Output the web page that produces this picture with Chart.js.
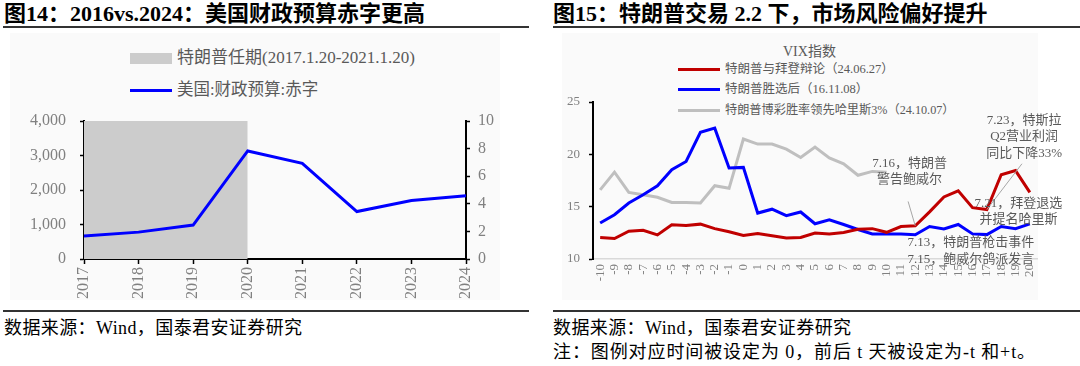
<!DOCTYPE html>
<html>
<head>
<meta charset="utf-8">
<script src="https://cdn.jsdelivr.net/npm/chart.js"></script>
<style>
  body { margin: 0; width: 1080px; height: 366px; background: #fff; position: relative; overflow: hidden;
         font-family: "Liberation Serif", "Noto Sans CJK SC", serif; }
  .ttl { position: absolute; top: 1px; font-size: 22px; line-height: 26px; font-weight: bold; color: #000; white-space: nowrap; }
  .rule { position: absolute; height: 2px; background: #333; }
  .panel { position: absolute; top: 33px; height: 267px; background: #fafafa; }
  .src { position: absolute; font-size: 18px; line-height: 20px; color: #000; white-space: nowrap; }
  .lg { position: absolute; white-space: nowrap; color: #595959; }
  .sw { position: absolute; }
  canvas { position: absolute; }
</style>
</head>
<body>
<div class="panel" style="left:10px;width:490px"></div>
<div class="panel" style="left:562px;width:476px"></div>

<div class="ttl" style="left:4px">图14：2016vs.2024：美国财政预算赤字更高</div>
<div class="rule" style="left:3px;width:526px;top:26px"></div>
<div class="ttl" style="left:553px">图15：特朗普交易 2.2 下，市场风险偏好提升</div>
<div class="rule" style="left:553px;width:527px;top:26px"></div>

<div class="sw" style="left:130px;top:53px;width:42px;height:11px;background:#cccccc"></div>
<div class="lg" style="left:177px;top:48px;font-size:17px;line-height:20px">特朗普任期(2017.1.20-2021.1.20)</div>
<div class="sw" style="left:130px;top:89px;width:42px;height:3px;background:#0000ff"></div>
<div class="lg" style="left:177px;top:80px;font-size:16.5px;line-height:20px">美国:财政预算:赤字</div>

<div class="lg" style="left:783px;top:43px;font-size:14px;line-height:18px">VIX指数</div>
<div class="sw" style="left:678px;top:68px;width:42px;height:3px;background:#c00000"></div>
<div class="lg" style="left:725px;top:61px;font-size:12.5px;line-height:16px">特朗普与拜登辩论（24.06.27）</div>
<div class="sw" style="left:678px;top:88px;width:42px;height:3px;background:#0000ff"></div>
<div class="lg" style="left:725px;top:81px;font-size:12.5px;line-height:16px">特朗普胜选后（16.11.08）</div>
<div class="sw" style="left:678px;top:109px;width:42px;height:3px;background:#bfbfbf"></div>
<div class="lg" style="left:725px;top:102px;font-size:12.2px;line-height:16px">特朗普博彩胜率领先哈里斯3%（24.10.07）</div>

<canvas id="left" width="530" height="275" style="left:0;top:30px"></canvas>
<canvas id="right" width="540" height="275" style="left:540px;top:30px"></canvas>

<div class="rule" style="left:3px;width:526px;top:310px"></div>
<div class="rule" style="left:553px;width:527px;top:310px"></div>
<div class="src" style="left:4px;top:318px;letter-spacing:0.4px">数据来源：Wind，国泰君安证券研究</div>
<div class="src" style="left:553px;top:318px;letter-spacing:0.4px">数据来源：Wind，国泰君安证券研究</div>
<div class="src" style="left:553px;top:342px;letter-spacing:0.9px">注：图例对应时间被设定为 0，前后 t 天被设定为-t 和+t。</div>

<script>
// left chart: US budget deficit (bn USD)
const years = ["2017", "2018", "2019", "2020", "2021", "2022", "2023", "2024"];
const deficit = [665, 779, 984, 3132, 2775, 1375, 1695, 1833];
const trumpTerm = [4000, 4000, 4000, 4000, null, null, null, null];

// right chart: VIX around events, day offset -10..20
const days = ["-10", "-9", "-8", "-7", "-6", "-5", "-4", "-3", "-2", "-1", "0",
  "1", "2", "3", "4", "5", "6", "7", "8", "9", "10",
  "11", "12", "13", "14", "15", "16", "17", "18", "19", "20"];
const vixDebate = [12.05, 11.95, 12.65, 12.75, 12.3, 13.28, 13.2, 13.33, 12.9, 12.6, 12.24,
  12.44, 12.22, 12.0, 12.05, 12.48, 12.38, 12.54, 12.85, 12.9, 12.55,
  13.1, 13.17, 14.5, 15.93, 16.52, 14.9, 14.72, 18.05, 18.45, 16.37];
const vixElection = [13.44, 14.23, 15.35, 16.14, 17.0, 18.53, 19.32, 22.1, 22.5, 18.69, 18.75,
  14.39, 14.76, 14.14, 14.49, 13.37, 13.74, 13.3, 12.82, 12.4, 12.4,
  12.4, 12.32, 13.11, 12.88, 13.3, 12.4, 12.33, 13.1, 12.9, 13.35];
const vixOdds = [16.6, 18.3, 16.36, 16.14, 15.9, 15.4, 15.4, 15.35, 17.0, 16.75, 21.46,
  20.98, 20.99, 20.5, 19.7, 20.7, 19.65, 19.1, 18.0, 18.37, 18.3];

const tickGray = "#808080";
const serif = "'Liberation Serif', 'Noto Sans CJK SC', serif";

function fixW(w) { return (s) => { s.width = w; }; }
function fixH(h) { return (s) => { s.height = h; }; }

new Chart(document.getElementById("left"), {
  type: "line",
  data: {
    labels: years,
    datasets: [
      { label: "美国:财政预算:赤字", data: deficit, borderColor: "#0000ff", borderWidth: 3,
        pointRadius: 0, yAxisID: "y", tension: 0 },
      { label: "特朗普任期", data: trumpTerm, borderWidth: 0, pointRadius: 0,
        backgroundColor: "#cccccc", fill: "origin", yAxisID: "y" },
    ],
  },
  options: {
    responsive: false,
    animation: false,
    locale: "en-US",
    layout: { padding: { top: 91, left: 0, right: 0, bottom: 0 } },
    plugins: { legend: { display: false }, tooltip: { enabled: false } },
    scales: {
      x: {
        grid: { display: true, drawOnChartArea: false, color: "#000", tickLength: 5, tickWidth: 1.5 },
        border: { color: "#000", width: 2 },
        ticks: { color: tickGray, font: { size: 16, family: serif }, minRotation: 90, maxRotation: 90, padding: 3 },
        afterFit: fixH(46),
      },
      y: {
        position: "left", min: 0, max: 4000,
        grid: { display: true, drawOnChartArea: false, color: "#000", tickLength: 4, tickWidth: 1.5 },
        border: { color: "#000", width: 2 },
        ticks: { stepSize: 1000, color: tickGray, font: { size: 16, family: serif }, padding: 14 },
        afterFit: fixW(84),
      },
      y2: {
        position: "right", min: 0, max: 10,
        grid: { display: true, drawOnChartArea: false, color: "#000", tickLength: 4, tickWidth: 1.5 },
        border: { color: "#000", width: 2 },
        ticks: { stepSize: 2, color: tickGray, font: { size: 16, family: serif }, padding: 8 },
        afterFit: fixW(64),
      },
    },
  },
});

// text notes on the VIX chart, anchored in data units (day offset, VIX)
const notes = [
  { lines: ["7.16，特朗普", "警告鲍威尔"], t: 11.6, v: 19.14, align: "center" },
  { lines: ["7.23，特斯拉", "Q2营业利润", "同比下降33%"], t: 19.6, v: 23.24, align: "center" },
  { lines: ["7.21，拜登退选", "并提名哈里斯"], t: 19.2, v: 15.3, align: "center" },
  { lines: ["7.13，特朗普枪击事件", "7.15，鲍威尔鸽派发言"], t: 11.45, v: 11.55, align: "left" },
];
const leaders = [
  { t: 11.5, v: 15.5, day: 12 },
  { t: 19.45, v: 19.1, day: 17 },
];

const annotate = {
  id: "annotate",
  afterDatasetsDraw(chart) {
    const { ctx, scales: { x, y } } = chart;
    const zero = days.indexOf("0");
    ctx.save();
    ctx.strokeStyle = "#a6a6a6";
    ctx.lineWidth = 1;
    leaders.forEach((l) => {
      ctx.beginPath();
      ctx.moveTo(x.getPixelForValue(zero + l.t), y.getPixelForValue(l.v));
      ctx.lineTo(x.getPixelForValue(zero + l.day), y.getPixelForValue(vixDebate[zero + l.day]));
      ctx.stroke();
    });
    ctx.font = "13px " + serif;
    ctx.fillStyle = "#595959";
    ctx.textBaseline = "middle";
    notes.forEach((n) => {
      ctx.textAlign = n.align;
      n.lines.forEach((s, i) => {
        ctx.fillText(s, x.getPixelForValue(zero + n.t), y.getPixelForValue(n.v) + i * 16.5);
      });
    });
    ctx.restore();
  },
};

new Chart(document.getElementById("right"), {
  type: "line",
  data: {
    labels: days,
    datasets: [
      { label: "特朗普与拜登辩论（24.06.27）", data: vixDebate, borderColor: "#c00000", borderWidth: 3, pointRadius: 0 },
      { label: "特朗普胜选后（16.11.08）", data: vixElection, borderColor: "#0000ff", borderWidth: 3, pointRadius: 0 },
      { label: "特朗普博彩胜率领先哈里斯3%（24.10.07）", data: vixOdds, borderColor: "#bfbfbf", borderWidth: 3, pointRadius: 0 },
    ],
  },
  options: {
    responsive: false,
    animation: false,
    layout: { padding: { top: 72, left: 0, right: 43, bottom: 0 } },
    plugins: { legend: { display: false }, tooltip: { enabled: false } },
    scales: {
      x: {
        offset: true,
        grid: { display: true, drawOnChartArea: false, drawTicks: false },
        border: { color: "#d9d9d9", width: 1.5 },
        ticks: { color: tickGray, font: { size: 13, family: serif }, minRotation: 90, maxRotation: 90, autoSkip: false, padding: 5 },
        afterFit: fixH(46),
      },
      y: {
        min: 10, max: 25,
        grid: { display: true, drawOnChartArea: false, color: "#000", tickLength: 4, tickWidth: 1.5 },
        border: { color: "#000", width: 2 },
        ticks: { stepSize: 5, color: tickGray, font: { size: 13, family: serif }, padding: 9 },
        afterFit: fixW(53),
      },
    },
  },
  plugins: [annotate],
});
</script>
</body>
</html>
